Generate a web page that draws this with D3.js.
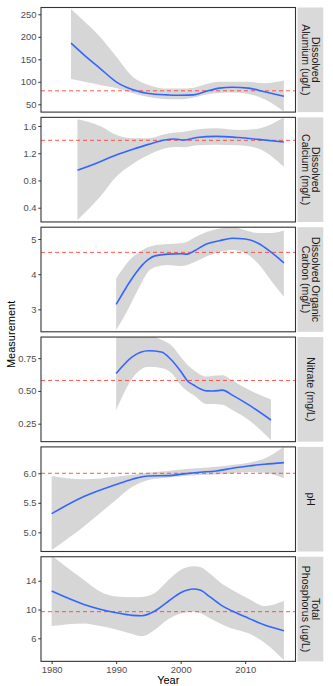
<!DOCTYPE html>
<html>
<head>
<meta charset="utf-8">
<script src="https://cdn.jsdelivr.net/npm/d3@7"></script>
<style>
  html, body { margin: 0; padding: 0; background: #fff; }
  svg { display: block; font-family: "Liberation Sans", Arial, Helvetica, sans-serif; }
</style>
</head>
<body>
<svg id="chart" width="333" height="686"></svg>
<script>
// ---------- DATA ----------
const xTicks = [1980, 1990, 2000, 2010];
const xDomain = [1978.35, 2017.8];

const stripLabels = [
  ["Dissolved", "Alumium (ug/L)"],
  ["Dissolved", "Calcium (mg/L)"],
  ["Dissolved Organic", "Carbon (mg/L)"],
  ["Nitrate (mg/L)"],
  ["pH"],
  ["Total", "Phosphorus (ug/L)"]
];
const refValues = [80, 1.39, 4.62, 0.58, 6.0, 9.7];
const yDomains = [[32.7, 265.1], [0.191, 1.727], [2.36, 5.336], [0.113, 0.911], [4.675, 6.447], [2.80, 17.33]];
const yTicks = [[50, 100, 150, 200, 250], [0.4, 0.8, 1.2, 1.6], [3, 4, 5], [0.25, 0.5, 0.75], [5.0, 5.5, 6.0], [6, 10, 14]];
const yTickFormats = ["d", ".1f", "d", ".2f", ".1f", "d"];

// Dissolved Aluminum
const alumYears = [1983, 1985, 1987.5, 1990, 1992.5, 1995, 1998, 2000, 2002, 2004, 2006, 2008, 2010.5, 2013, 2016];
const alumFit   = [186, 160, 130, 100, 83, 74, 71, 70, 71, 79, 86, 88, 86, 78, 68];
const alumHi    = [262, 235, 200, 156, 112, 93, 85, 85, 87, 95, 100, 100, 100, 97, 103];
const alumLo    = [106, 100, 93, 86, 75, 66, 61, 61, 65, 72, 75, 76, 73, 61, 34];

// Dissolved Calcium
const calcYears = [1984, 1987.5, 1990, 1992.5, 1995, 1997.5, 1999, 2000.5, 2002.5, 2005.5, 2009, 2012, 2016];
const calcFit   = [0.95, 1.076, 1.174, 1.255, 1.33, 1.395, 1.41, 1.395, 1.432, 1.448, 1.43, 1.404, 1.365];
const calcHi    = [1.70, 1.60, 1.47, 1.42, 1.42, 1.48, 1.50, 1.515, 1.55, 1.566, 1.54, 1.56, 1.727];
const calcLo    = [0.22, 0.56, 0.856, 1.04, 1.174, 1.27, 1.29, 1.287, 1.316, 1.325, 1.316, 1.27, 1.0];

// Dissolved Organic Carbon
const docYears = [1990, 1991, 1992, 1993, 1994, 1995, 1996, 1998, 2000, 2001, 2002, 2004, 2006, 2008, 2010, 2012, 2014, 2016];
const docFit   = [3.14, 3.45, 3.75, 4.02, 4.25, 4.42, 4.52, 4.57, 4.58, 4.57, 4.65, 4.86, 4.95, 5.02, 5.0, 4.88, 4.63, 4.32];
const docHi    = [3.88, 4.15, 4.38, 4.55, 4.68, 4.77, 4.82, 4.86, 4.88, 4.92, 5.03, 5.2, 5.3, 5.35, 5.25, 5.17, 5.17, 5.24];
const docLo    = [2.41, 2.72, 3.05, 3.42, 3.78, 4.08, 4.2, 4.26, 4.23, 4.26, 4.33, 4.5, 4.63, 4.69, 4.6, 4.3, 3.82, 3.36];

// Nitrate
const nitYears = [1990, 1992.5, 1995, 1997, 1998.5, 2000, 2001, 2002, 2004, 2005, 2006.5, 2008, 2010.5, 2014];
const nitFit   = [0.633, 0.76, 0.806, 0.797, 0.74, 0.65, 0.58, 0.545, 0.50, 0.499, 0.506, 0.468, 0.395, 0.278];
const nitHi    = [0.95, 0.97, 0.93, 0.89, 0.85, 0.76, 0.70, 0.66, 0.61, 0.615, 0.62, 0.58, 0.51, 0.435];
const nitLo    = [0.354, 0.595, 0.684, 0.675, 0.64, 0.545, 0.50, 0.468, 0.40, 0.40, 0.395, 0.354, 0.28, 0.126];

// pH
const phYears = [1980, 1985, 1990, 1992.5, 1995, 1998, 2000.5, 2003, 2005.5, 2008, 2010.5, 2013, 2016];
const phFit   = [5.316, 5.605, 5.81, 5.9, 5.955, 5.96, 5.99, 6.017, 6.04, 6.085, 6.124, 6.153, 6.18];
const phHi    = [5.955, 5.9, 5.94, 5.975, 6.01, 6.04, 6.07, 6.09, 6.11, 6.14, 6.18, 6.25, 6.45];
const phLo    = [4.7, 5.1, 5.55, 5.77, 5.887, 5.93, 5.955, 5.97, 5.98, 6.0, 6.02, 6.01, 5.915];

// Total Phosphorus
const tpYears = [1980, 1985, 1987.5, 1990, 1992.5, 1994, 1996, 1998, 2000, 2002, 2003, 2004.5, 2006.5, 2008, 2010.5, 2013, 2016];
const tpFit   = [12.56, 10.71, 10.05, 9.56, 9.19, 9.14, 9.8, 11.08, 12.33, 12.84, 12.7, 11.78, 10.48, 9.79, 8.8, 7.84, 7.06];
const tpHi    = [17.5, 14.1, 12.5, 11.8, 11.7, 11.75, 12.3, 14.0, 15.5, 16.0, 15.9, 15.0, 13.5, 12.7, 11.5, 10.5, 11.2];
const tpLo    = [7.7, 8.07, 7.7, 7.24, 6.6, 6.3, 7.2, 8.6, 9.45, 9.7, 9.5, 8.8, 7.9, 7.38, 6.7, 5.4, 2.98];

const seriesYears = [alumYears, calcYears, docYears, nitYears, phYears, tpYears];
const seriesFit   = [alumFit, calcFit, docFit, nitFit, phFit, tpFit];
const seriesHi    = [alumHi, calcHi, docHi, nitHi, phHi, tpHi];
const seriesLo    = [alumLo, calcLo, docLo, nitLo, phLo, tpLo];

// ---------- LAYOUT ----------
const svg = d3.select("#chart");
const pLeft = 41, pRight = 295.5;
const pTop0 = 7.5, pStep = 109.85, pH = 104.6;
const stripX = 297.5, stripW = 25.8;

const x = d3.scaleLinear().domain(xDomain).range([pLeft, pRight]);

const nP = stripLabels.length;
for (let i = 0; i < nP; i++) {
  const top = pTop0 + i * pStep;
  const bottom = top + pH;
  const y = d3.scaleLinear().domain(yDomains[i]).range([bottom, top]);
  const g = svg.append("g");

  const clipId = "clip" + i;
  svg.append("clipPath").attr("id", clipId)
    .append("rect").attr("x", pLeft).attr("y", top).attr("width", pRight - pLeft).attr("height", pH);

  const rows = seriesYears[i].map((yr, k) => ({yr, fit: seriesFit[i][k], hi: seriesHi[i][k], lo: seriesLo[i][k]}));

  const plot = g.append("g").attr("clip-path", `url(#${clipId})`);
  plot.append("path").datum(rows)
    .attr("fill", "#999999").attr("fill-opacity", 0.4)
    .attr("d", d3.area().x(d => x(d.yr)).y0(d => y(d.lo)).y1(d => y(d.hi)).curve(d3.curveMonotoneX));

  plot.append("line")
    .attr("x1", pLeft).attr("x2", pRight)
    .attr("y1", y(refValues[i])).attr("y2", y(refValues[i]))
    .attr("stroke", "#ff3b30").attr("stroke-opacity", 0.85).attr("stroke-width", 1)
    .attr("stroke-dasharray", "4,3");

  plot.append("path").datum(rows)
    .attr("fill", "none").attr("stroke", "#3366FF").attr("stroke-width", 1.6)
    .attr("d", d3.line().x(d => x(d.yr)).y(d => y(d.fit)).curve(d3.curveMonotoneX));

  // border
  g.append("rect").attr("x", pLeft).attr("y", top).attr("width", pRight - pLeft).attr("height", pH)
    .attr("fill", "none").attr("stroke", "#333333").attr("stroke-width", 1.1);

  // y axis
  const yAxis = d3.axisLeft(y).tickValues(yTicks[i]).tickFormat(d3.format(yTickFormats[i])).tickSize(2.7).tickPadding(1.8);
  const ya = g.append("g").attr("transform", `translate(${pLeft},0)`).call(yAxis);
  ya.select(".domain").remove();
  ya.selectAll(".tick line").attr("stroke", "#333333");
  ya.selectAll(".tick text").attr("fill", "#4d4d4d").style("font-size", "9.4px")
    .style("font-family", '"Liberation Sans", Arial, sans-serif');

  // strip
  g.append("rect").attr("x", stripX).attr("y", top).attr("width", stripW).attr("height", pH).attr("fill", "#d9d9d9");
  const lines = stripLabels[i];
  const cx = stripX + stripW / 2, cy = top + pH / 2;
  const lh = 10.2;
  const t = g.append("text")
    .attr("transform", `translate(${cx},${cy}) rotate(90)`)
    .attr("text-anchor", "middle").attr("fill", "#1a1a1a").style("font-size", "10.5px");
  lines.forEach((ln, k) => {
    const off = (k - (lines.length - 1) / 2) * lh;
    t.append("tspan").attr("x", 0).attr("y", off + 3.7).text(ln);
  });

  if (i === nP - 1) {
    const xAxis = d3.axisBottom(x).tickValues(xTicks).tickFormat(d3.format("d")).tickSize(2.7).tickPadding(1.8);
    const xa = g.append("g").attr("transform", `translate(0,${bottom})`).call(xAxis);
    xa.select(".domain").remove();
    xa.selectAll(".tick line").attr("stroke", "#333333");
    xa.selectAll(".tick text").attr("fill", "#4d4d4d").style("font-size", "9.4px")
      .style("font-family", '"Liberation Sans", Arial, sans-serif');
  }
}

// axis titles
svg.append("text").attr("x", (pLeft + pRight) / 2).attr("y", 684)
  .attr("text-anchor", "middle").attr("fill", "#000").style("font-size", "11px").text("Year");
const midY = (pTop0 + pTop0 + (nP - 1) * pStep + pH) / 2;
svg.append("text").attr("transform", `translate(15,${midY}) rotate(-90)`)
  .attr("text-anchor", "middle").attr("fill", "#000").style("font-size", "11px").text("Measurement");
</script>
</body>
</html>
